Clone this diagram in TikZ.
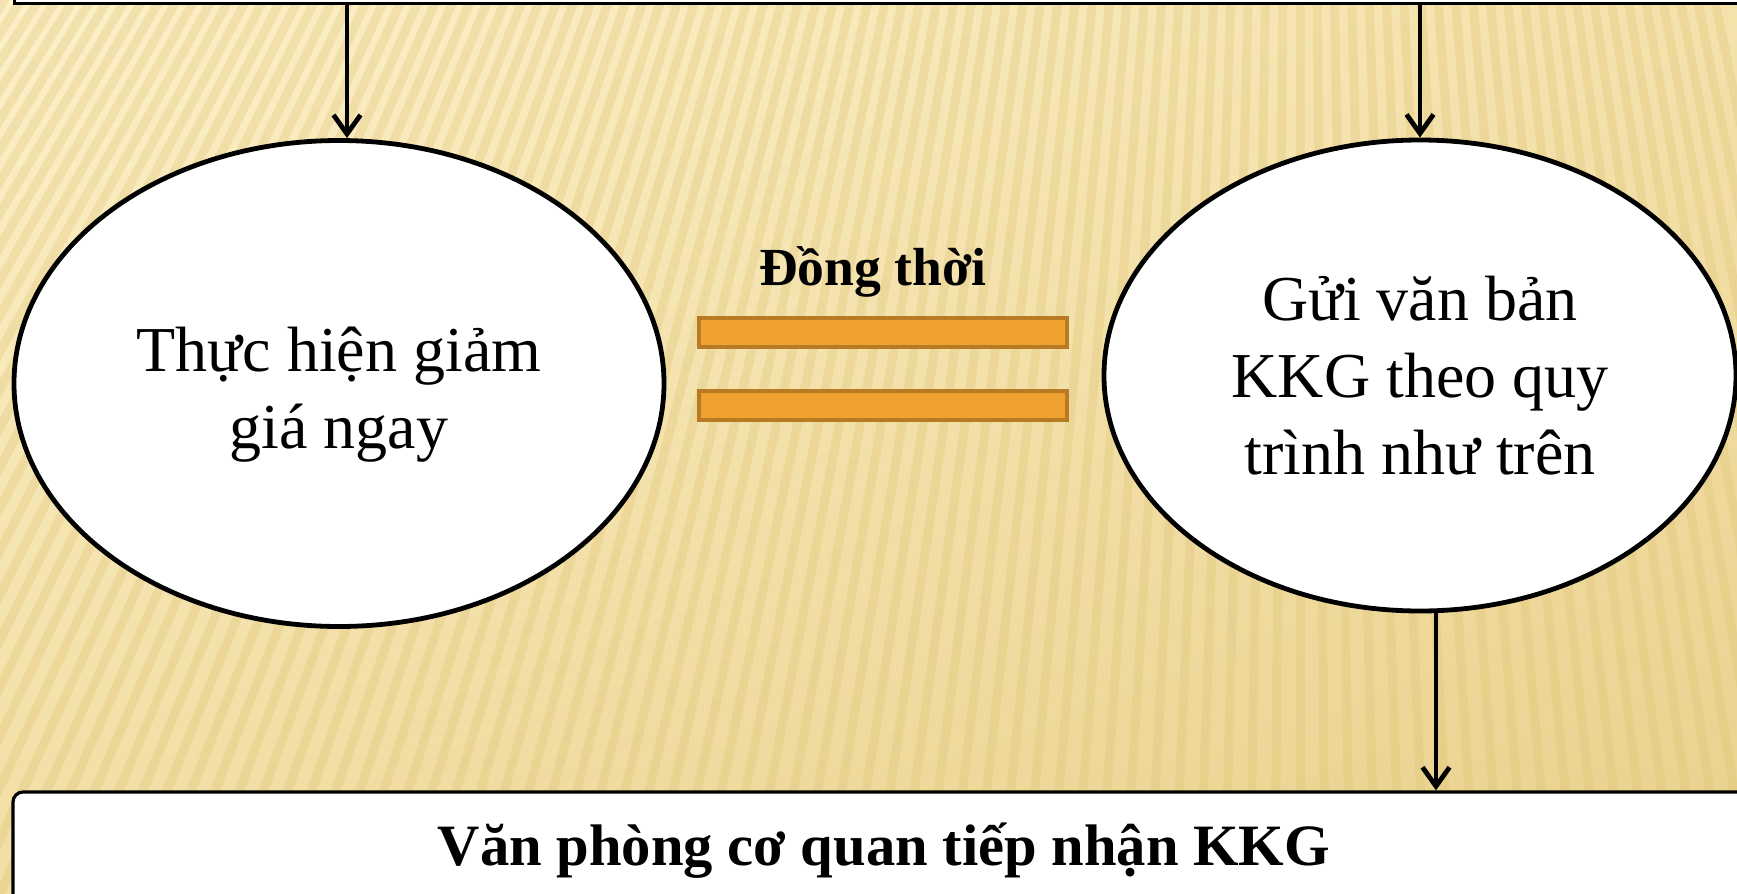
\documentclass[tikz,border=0pt]{standalone}
\usepackage{fontspec}
\setmainfont{Liberation Serif}
\usetikzlibrary{positioning,shapes.geometric,arrows.meta,shadings}

\definecolor{paperUL}{HTML}{FCF0C8}
\definecolor{paperUR}{HTML}{F4E2AC}
\definecolor{paperLL}{HTML}{F1DEA3}
\definecolor{paperLR}{HTML}{E9D18C}
\definecolor{stripe}{HTML}{DDBF6E}
\definecolor{barfill}{HTML}{EFA22F}
\definecolor{barline}{HTML}{B87A22}

\tikzset{
  bubble/.style={ellipse, draw, line width=2.4pt, fill=white, align=center,
    inner sep=0pt, font=\fontsize{32}{38.5}\selectfont},
  panel/.style={rectangle, draw, line width=1.4pt, fill=white},
  office/.style={panel, rounded corners=5pt, line width=1.6pt,
    font=\bfseries\fontsize{29.3}{36}\selectfont},
  bar/.style={rectangle, draw=barline, fill=barfill, line width=2pt,
    minimum width=184pt, minimum height=14.5pt, inner sep=0pt},
  arr/.style={-{Straight Barb[length=9.5pt,width=13.5pt]}, line width=2.4pt},
}

\begin{document}
\begin{tikzpicture}[x=0.5pt,y=-0.5pt]
  \useasboundingbox (0,0) rectangle (1737,894);
  \clip (0,0) rectangle (1737,894);
  % background
  \shade[upper left=paperUL, upper right=paperUR, lower left=paperLL,
    lower right=paperLR] (0,0) rectangle (1737,894);
  \foreach \k in {-900,-875,...,1900}
    \draw[stripe, line width=4.5pt, opacity=0.28] (1300,-2000) -- (\k,894);

  % boxes
  \node (top) [panel, anchor=south west, minimum width=871pt,
    minimum height=40pt] at (13,5) {};
  \node (thuc) [bubble, minimum width=325pt, minimum height=243pt]
    at (339,383.5) {\rule{0pt}{33.5pt}Thực hiện giảm\\giá ngay};
  \node (gui) [bubble, minimum width=316pt, minimum height=235.5pt]
    at (1420,375.5) {Gửi văn bản\\KKG theo quy\\trình như trên};
  \node (bar1) [bar] at (883,332.5) {};
  \node (bar2) [bar, below=20pt of bar1] {};
  \node (dong) [above=9pt of bar1, xshift=-5pt, inner sep=0pt,
    font=\bfseries\fontsize{26.8}{30}\selectfont] {Đồng thời};
  \node (office) [office, minimum width=871pt, minimum height=59pt]
    at (884,851) {Văn phòng cơ quan tiếp nhận KKG};

  % arrows
  \draw[arr] ([xshift=4pt]thuc.north |- top.south) -- ([xshift=4pt]thuc.north);
  \draw[arr] (gui.north |- top.south) -- (gui.north);
  \draw[arr] ([xshift=8pt]gui.south) -- ([xshift=8pt]gui.south |- office.north);
\end{tikzpicture}
\end{document}
